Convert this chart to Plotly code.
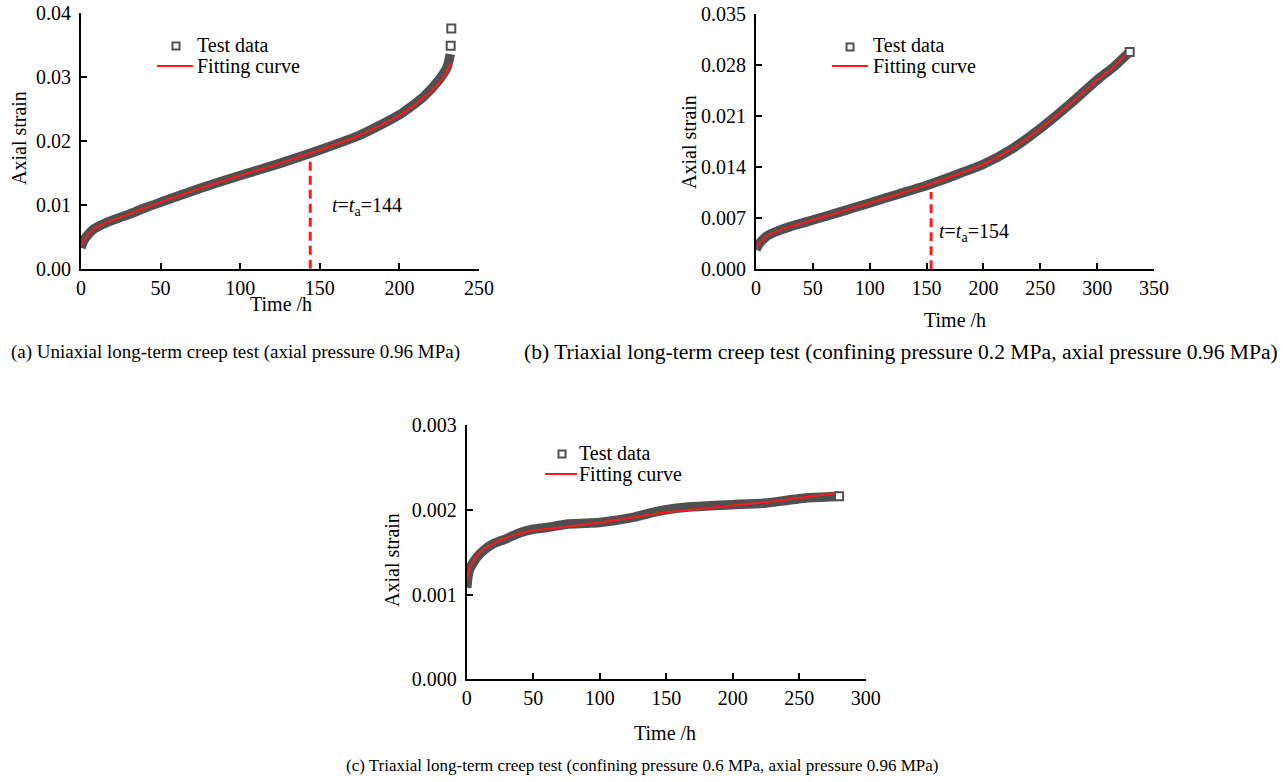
import plotly.graph_objects as go

W, H = 1284, 782
FONT = "Liberation Serif, Times New Roman, serif"
BAND = "#505050"
RED = "#ff1a1a"

# ---------------- (a) uniaxial creep ----------------
a_time = [0, 1, 2, 3, 5, 7, 10, 15, 20, 30, 40, 50, 75, 100, 125, 150, 175, 200, 215, 225, 230, 232]
a_strain = [0.0033, 0.0040, 0.0045, 0.0049, 0.0055, 0.0060, 0.0065, 0.0071, 0.0076, 0.0085, 0.0095,
            0.0104, 0.0126, 0.0146, 0.0165, 0.0186, 0.0209, 0.0241, 0.0269, 0.0296, 0.0316, 0.0336]
a_tail_time = [232.2, 232.6]
a_tail_strain = [0.0349, 0.0376]
a_fit_time = [0, 1, 2, 3, 5, 7, 10, 15, 20, 30, 40, 50, 75, 100, 125, 150, 175, 200, 215, 225, 230, 232]
a_fit_strain = [0.0036, 0.0041, 0.0045, 0.0049, 0.0055, 0.0060, 0.0065, 0.0071, 0.0076, 0.0085, 0.0095,
                0.0104, 0.0126, 0.0146, 0.0165, 0.0186, 0.0209, 0.0240, 0.0267, 0.0291, 0.0309, 0.0322]
a_ta = 144
a_ta_top = 0.0172

# ---------------- (b) triaxial, confining 0.2 MPa ----------------
b_time = [0, 2, 5, 10, 20, 30, 40, 50, 75, 100, 125, 150, 175, 200, 225, 250, 275, 300, 315, 328.6]
b_strain = [0.0027, 0.0033, 0.0039, 0.0046, 0.0053, 0.00585, 0.0063, 0.00676, 0.0079, 0.0091, 0.0103,
            0.0115, 0.0129, 0.0144, 0.0165, 0.0193, 0.0225, 0.02595, 0.0278, 0.0298]
b_fit_time = [0.5, 2, 5, 10, 20, 30, 40, 50, 75, 100, 125, 150, 175, 200, 225, 250, 275, 300, 315, 328]
b_fit_strain = [0.0029, 0.0034, 0.0039, 0.0046, 0.0053, 0.00585, 0.0063, 0.00676, 0.0079, 0.0091, 0.0103,
                0.0115, 0.0129, 0.0144, 0.0165, 0.0193, 0.0225, 0.02595, 0.0278, 0.0299]
b_ta = 154
b_ta_top = 0.0106

# ---------------- (c) triaxial, confining 0.6 MPa ----------------
c_time = [0, 1, 2, 5, 10, 15, 20, 30, 40, 50, 60, 75, 90, 100, 110, 125, 140, 150, 165, 180, 200,
          225, 240, 255, 270, 280]
c_strain = [0.00108, 0.00122, 0.00129, 0.00138, 0.00148, 0.00155, 0.00160, 0.00166, 0.00173, 0.00177,
            0.00179, 0.00183, 0.00184, 0.00185, 0.00187, 0.00191, 0.00197, 0.00200, 0.00203, 0.002045,
            0.00206, 0.00208, 0.00211, 0.00214, 0.00215, 0.00216]
c_fit_time = [0.3, 2, 5, 10, 20, 30, 40, 50, 75, 100, 125, 150, 175, 200, 225, 250, 280]
c_fit_strain = [0.00117, 0.00130, 0.00140, 0.00150, 0.00160, 0.00167, 0.00172, 0.001755, 0.00180,
                0.00185, 0.00191, 0.00197, 0.00201, 0.00205, 0.00209, 0.00214, 0.00220]


# pixel -> paper helpers for the fixed-size page
def px(x):
    return x / W


def py(y):
    return 1 - y / H


fig = go.Figure()

panels = [
    ("x", "y", a_time, a_strain, a_fit_time, a_fit_strain, a_tail_time, a_tail_strain),
    ("x2", "y2", b_time, b_strain, b_fit_time, b_fit_strain, b_time[-1:], b_strain[-1:]),
    ("x3", "y3", c_time, c_strain, c_fit_time, c_fit_strain, c_time[-1:], c_strain[-1:]),
]

for xa, ya, t, e, ft, fe, tt, te in panels:
    # dense test records form a thick band
    fig.add_trace(go.Scatter(x=t, y=e, xaxis=xa, yaxis=ya, mode="lines", name="Test data",
                             line=dict(color=BAND, width=9.5, shape="spline", smoothing=0.6),
                             showlegend=False, hoverinfo="skip"))
    fig.add_trace(go.Scatter(x=ft, y=fe, xaxis=xa, yaxis=ya, mode="lines", name="Fitting curve",
                             line=dict(color=RED, width=2, shape="spline", smoothing=0.6),
                             showlegend=False))
    fig.add_trace(go.Scatter(x=tt, y=te, xaxis=xa, yaxis=ya, mode="markers", name="Test data",
                             marker=dict(symbol="square", size=8, color="white",
                                         line=dict(color=BAND, width=2)),
                             showlegend=False, cliponaxis=False))

axis_common = dict(showline=True, linecolor="black", linewidth=2, ticks="inside", ticklen=6,
                   tickwidth=2, tickcolor="black", showgrid=False, zeroline=False, automargin=False,
                   tickfont=dict(family=FONT, size=20, color="black"))

fig.update_layout(
    template="none",
    width=W, height=H, margin=dict(l=0, r=0, t=0, b=0, pad=0, autoexpand=False),
    font=dict(family=FONT, size=20, color="black"),
    paper_bgcolor="white", plot_bgcolor="white", showlegend=False,
    xaxis=dict(domain=[px(81), px(479)], range=[0, 250], dtick=50, anchor="y",
               ticklabelstandoff=0, **axis_common),
    yaxis=dict(domain=[py(268.7), py(13.3)], range=[0, 0.04], dtick=0.01, tickformat=".2f",
               anchor="x", ticklabelstandoff=4, **axis_common),
    xaxis2=dict(domain=[px(756), px(1154)], range=[0, 350], dtick=50, anchor="y2",
                ticklabelstandoff=0, **axis_common),
    yaxis2=dict(domain=[py(269.3), py(14)], range=[0, 0.035], dtick=0.007, tickformat=".3f",
                anchor="x2", ticklabelstandoff=4, **axis_common),
    xaxis3=dict(domain=[px(466.7), px(865.7)], range=[0, 300], dtick=50, anchor="y3",
                ticklabelstandoff=0, **axis_common),
    yaxis3=dict(domain=[py(679.3), py(425)], range=[0, 0.003], dtick=0.001, tickformat=".3f",
                anchor="x3", ticklabelstandoff=4, **axis_common),
)

# t = t_a markers
shapes = [
    dict(type="line", xref="x", yref="y", x0=a_ta, x1=a_ta, y0=0, y1=a_ta_top,
         line=dict(color=RED, width=3, dash="9px,5px")),
    dict(type="line", xref="x2", yref="y2", x0=b_ta, x1=b_ta, y0=0, y1=b_ta_top,
         line=dict(color=RED, width=3, dash="9px,5px")),
]

annotations = [
    dict(xref="x", yref="y", x=156.4, y=0.0098, xanchor="left", yanchor="middle", showarrow=False,
         text=f"<i>t</i>=<i>t</i><sub>a</sub>={a_ta}", font=dict(family=FONT, size=20, color="black")),
    dict(xref="x2", yref="y2", x=159.2, y=0.0050, xanchor="left", yanchor="middle", showarrow=False,
         text=f"<i>t</i>=<i>t</i><sub>a</sub>={b_ta}", font=dict(family=FONT, size=20, color="black")),
]

# legends: square marker + red line with labels
legend_spots = [
    # square centre, line x-range, line y, text x, row y (test), row y (fit)
    (176, 46, 157, 193, 66, 195, 45, 66),
    (850, 47, 832, 868, 66, 871, 45, 66),
    (562, 454, 545, 577, 474, 577, 453, 474),
]
for sx, sy, lx0, lx1, ly, tx, ty1, ty2 in legend_spots:
    shapes.append(dict(type="rect", xref="paper", yref="paper",
                       x0=px(sx - 3.5), x1=px(sx + 3.5), y0=py(sy + 3.5), y1=py(sy - 3.5),
                       line=dict(color=BAND, width=2), fillcolor="white"))
    shapes.append(dict(type="line", xref="paper", yref="paper", x0=px(lx0), x1=px(lx1),
                       y0=py(ly), y1=py(ly), line=dict(color=RED, width=2)))
    annotations.append(dict(xref="paper", yref="paper", x=px(tx), y=py(ty1), xanchor="left",
                            yanchor="middle", showarrow=False, text="Test data",
                            font=dict(family=FONT, size=20, color="black")))
    annotations.append(dict(xref="paper", yref="paper", x=px(tx), y=py(ty2), xanchor="left",
                            yanchor="middle", showarrow=False, text="Fitting curve",
                            font=dict(family=FONT, size=20, color="black")))

# axis titles
for x, y in [(19, 138), (689, 142), (392, 560)]:
    annotations.append(dict(xref="paper", yref="paper", x=px(x), y=py(y), textangle=-90,
                            xanchor="center", yanchor="middle", showarrow=False, text="Axial strain",
                            font=dict(family=FONT, size=20, color="black")))
for x, y in [(281, 304), (955, 320), (665, 733)]:
    annotations.append(dict(xref="paper", yref="paper", x=px(x), y=py(y),
                            xanchor="center", yanchor="middle", showarrow=False, text="Time /h",
                            font=dict(family=FONT, size=20, color="black")))

# captions
captions = [
    (235.5, 352, "(a) Uniaxial long-term creep test (axial pressure 0.96 MPa)", 19),
    (901, 352, "(b) Triaxial long-term creep test (confining pressure 0.2 MPa, axial pressure 0.96 MPa)", 21.6),
    (642.5, 765, "(c) Triaxial long-term creep test (confining pressure 0.6 MPa, axial pressure 0.96 MPa)", 17),
]
for x, y, txt, size in captions:
    annotations.append(dict(xref="paper", yref="paper", x=px(x), y=py(y), xanchor="center",
                            yanchor="middle", showarrow=False, text=txt,
                            font=dict(family=FONT, size=size, color="black")))

fig.update_layout(shapes=shapes, annotations=annotations)
fig.write_html("out.html")
